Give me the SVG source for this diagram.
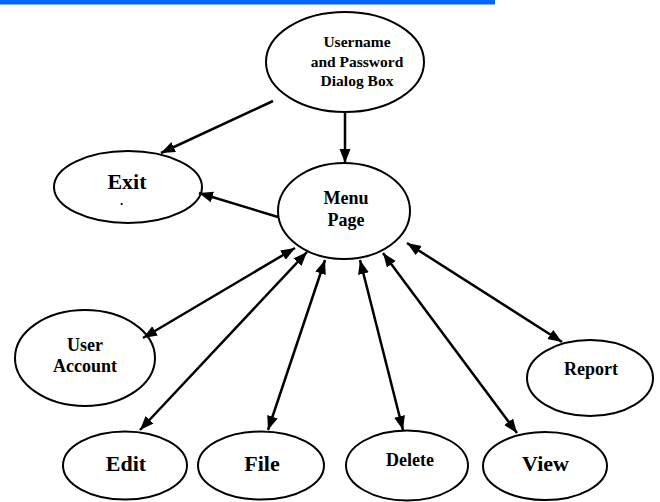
<svg xmlns="http://www.w3.org/2000/svg" width="660" height="502" viewBox="0 0 660 502">
<style>
.n{fill:#fff;stroke:#000;stroke-width:2}
.t{font-family:"Liberation Serif","Times New Roman",serif;font-weight:bold;fill:#000;text-anchor:middle}
.c line{stroke:#000;stroke-width:2.5}
</style>
<defs>
<marker id="ah" markerUnits="userSpaceOnUse" markerWidth="15" markerHeight="12" refX="14" refY="5.5" orient="auto-start-reverse">
<path d="M0,0 L14,5.5 L0,11 z" fill="#000"/>
</marker>
</defs>
<rect x="0" y="0" width="495" height="4.5" fill="#0066FF"/>
<g id="n-login">
<ellipse class="n" cx="345" cy="62" rx="79" ry="50"/>
<text class="t" x="357" y="47" font-size="15.5">Username</text>
<text class="t" x="357" y="66.5" font-size="15.5">and Password</text>
<text class="t" x="357" y="86" font-size="15.5">Dialog Box</text>
</g>
<g id="n-exit">
<ellipse class="n" cx="128" cy="187" rx="74" ry="36"/>
<text class="t" x="127" y="189" font-size="22">Exit</text>
<text class="t" x="121.5" y="205" font-size="13">.</text>
</g>
<g id="n-menu">
<ellipse class="n" cx="344" cy="211" rx="66" ry="48"/>
<text class="t" x="346" y="204" font-size="18">Menu</text>
<text class="t" x="346" y="226" font-size="18">Page</text>
</g>
<g id="n-user">
<ellipse class="n" cx="85" cy="358" rx="70" ry="48"/>
<text class="t" x="85" y="350.5" font-size="18">User</text>
<text class="t" x="85" y="371.5" font-size="18">Account</text>
</g>
<g id="n-report">
<ellipse class="n" cx="590" cy="378" rx="63" ry="38"/>
<text class="t" x="591" y="375" font-size="18">Report</text>
</g>
<g id="n-edit">
<ellipse class="n" cx="125" cy="465.5" rx="62" ry="34"/>
<text class="t" x="126" y="470.5" font-size="22">Edit</text>
</g>
<g id="n-file">
<ellipse class="n" cx="261" cy="465.5" rx="63" ry="34"/>
<text class="t" x="262" y="470.5" font-size="22">File</text>
</g>
<g id="n-delete">
<ellipse class="n" cx="407" cy="465.5" rx="61" ry="35"/>
<text class="t" x="410" y="465.5" font-size="18">Delete</text>
</g>
<g id="n-view">
<ellipse class="n" cx="545" cy="466" rx="62" ry="34"/>
<text class="t" x="545.5" y="470.5" font-size="22">View</text>
</g>
<g id="connectors" class="c">
<line x1="273" y1="101" x2="161" y2="153" marker-end="url(#ah)"/>
<line x1="345" y1="112" x2="345" y2="163" marker-end="url(#ah)"/>
<line x1="278" y1="217" x2="199" y2="193" marker-end="url(#ah)"/>
<line x1="295" y1="248" x2="143" y2="338" marker-start="url(#ah)" marker-end="url(#ah)"/>
<line x1="307" y1="252" x2="140" y2="430" marker-start="url(#ah)" marker-end="url(#ah)"/>
<line x1="325" y1="260" x2="268" y2="430" marker-start="url(#ah)" marker-end="url(#ah)"/>
<line x1="360" y1="260" x2="403" y2="430" marker-start="url(#ah)" marker-end="url(#ah)"/>
<line x1="383" y1="253" x2="517" y2="433" marker-start="url(#ah)" marker-end="url(#ah)"/>
<line x1="407" y1="243" x2="562" y2="342" marker-start="url(#ah)" marker-end="url(#ah)"/>
</g>
</svg>
